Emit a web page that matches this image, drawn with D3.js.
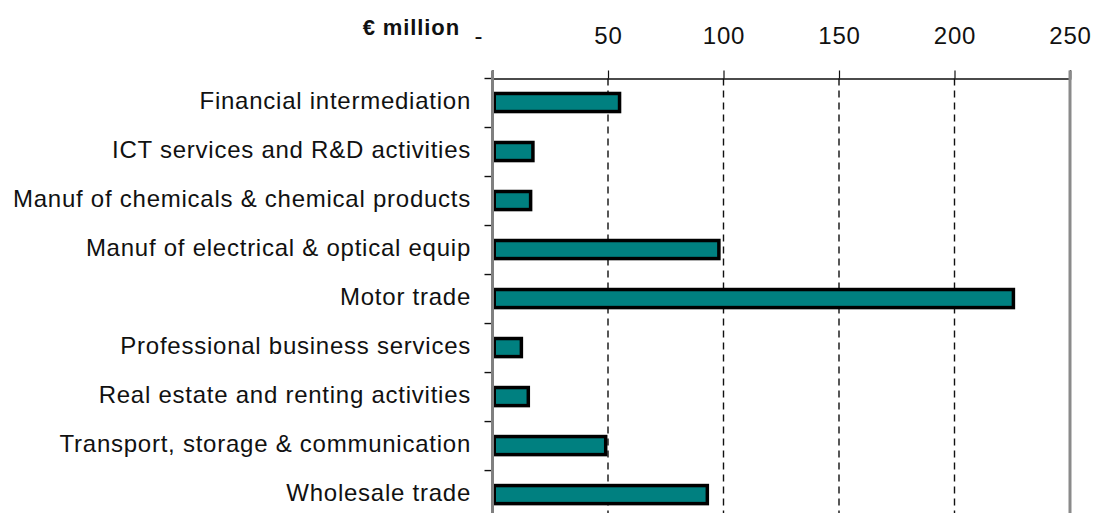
<!DOCTYPE html>
<html>
<head>
<meta charset="utf-8">
<script src="https://cdn.jsdelivr.net/npm/d3@7"></script>
<style>
  html, body { margin: 0; padding: 0; background: #fff; }
  svg { display: block; font-family: "Liberation Sans", Arial, sans-serif; }
</style>
</head>
<body>
<svg id="chart" width="1094" height="513"></svg>
<script>
// Sectors (top to bottom) and their values in € million
const sectors = [
  "Financial intermediation",
  "ICT services and R&D activities",
  "Manuf of chemicals & chemical products",
  "Manuf of electrical & optical equip",
  "Motor trade",
  "Professional business services",
  "Real estate and renting activities",
  "Transport, storage & communication",
  "Wholesale trade"
];
const values = [55, 17.5, 16.5, 98, 225.5, 12.5, 15.5, 49, 93];
const tickValues = [0, 50, 100, 150, 200, 250];
const unitLabel = "€ million";

const svg = d3.select("#chart");

const plotLeft = 492.5, plotRight = 1070, plotTop = 78.5, plotBottom = 518.6;

const x = d3.scaleLinear().domain([0, 250]).range([plotLeft, plotRight]);
const y = d3.scaleBand().domain(sectors).range([plotTop, plotBottom])
  .paddingInner(0.56).paddingOuter(0.27);

// dashed vertical gridlines
svg.append("g")
  .selectAll("line")
  .data(tickValues.filter(v => v > 0 && v < 250))
  .join("line")
  .attr("x1", d => x(d)).attr("x2", d => x(d))
  .attr("y1", plotTop).attr("y2", 513)
  .attr("stroke", "#111").attr("stroke-width", 1.4)
  .attr("stroke-dasharray", "7,5");

// top axis
const axis = d3.axisTop(x)
  .tickValues(tickValues)
  .tickSize(8)
  .tickPadding(27)
  .tickFormat(d => d === 0 ? "-" : d3.format("d")(d));

const gAxis = svg.append("g").attr("transform", `translate(0,${plotTop})`).call(axis);
gAxis.select(".domain").attr("stroke", "#111").attr("stroke-width", 1.6);
gAxis.selectAll(".tick line").attr("stroke", "#111").attr("stroke-width", 1.2);
gAxis.selectAll(".tick text")
  .attr("font-size", 24).attr("fill", "#111")
  .attr("font-family", "Liberation Sans, Arial, sans-serif")
  .style("letter-spacing", "0.8px")
  .attr("dx", d => d === 0 ? -14 : 0);

// unit label
svg.append("text")
  .attr("x", 460).attr("y", 35)
  .attr("text-anchor", "end")
  .attr("font-size", 22).attr("font-weight", "bold").attr("fill", "#111")
  .style("letter-spacing", "0.9px")
  .text(unitLabel);

// right frame edge
svg.append("line")
  .attr("x1", plotRight).attr("x2", plotRight)
  .attr("y1", plotTop - 8).attr("y2", 513)
  .attr("stroke", "#8a8a8a").attr("stroke-width", 3);

// category boundary ticks on the left
const step = y.step();
const boundaries = d3.range(sectors.length + 1).map(i => plotTop + i * step);
svg.append("g")
  .selectAll("line")
  .data(boundaries)
  .join("line")
  .attr("x1", plotLeft - 8).attr("x2", plotLeft)
  .attr("y1", d => d).attr("y2", d => d)
  .attr("stroke", "#111").attr("stroke-width", 1.4);

// bars, outlined with the stroke centred on the bar edge
const sw = 3.5;
svg.append("g")
  .selectAll("rect")
  .data(sectors.map((s, i) => ({ s, v: values[i] })))
  .join("rect")
  .attr("x", x(0) + sw / 2)
  .attr("y", d => y(d.s) + sw / 2)
  .attr("width", d => x(d.v) - x(0) - sw / 2)
  .attr("height", y.bandwidth() - sw)
  .attr("fill", "#008080")
  .attr("stroke", "#000")
  .attr("stroke-width", sw);

// left axis line
svg.append("line")
  .attr("x1", plotLeft).attr("x2", plotLeft)
  .attr("y1", plotTop - 8).attr("y2", 513)
  .attr("stroke", "#808080").attr("stroke-width", 3);

// category labels
svg.append("g")
  .selectAll("text")
  .data(sectors)
  .join("text")
  .attr("x", 471)
  .attr("y", d => y(d) + y.bandwidth() / 2 + 6)
  .attr("text-anchor", "end")
  .attr("font-size", 24).attr("fill", "#111")
  .style("letter-spacing", "0.75px")
  .text(d => d);
</script>
</body>
</html>
